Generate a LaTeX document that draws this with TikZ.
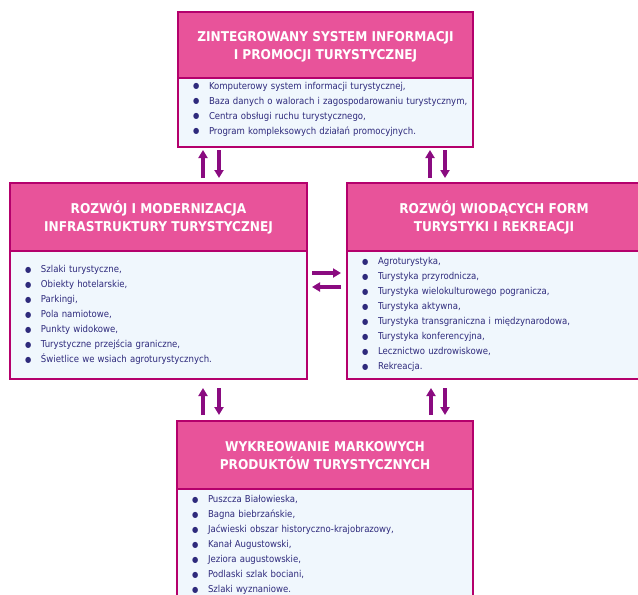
\documentclass[tikz,border=0pt]{standalone}
\usepackage{fontspec}
\setmainfont{DejaVu Sans Condensed}
\usetikzlibrary{arrows.meta}
\definecolor{naglowek}{HTML}{E8539A}
\definecolor{ramka}{HTML}{B4006C}
\definecolor{tlolisty}{HTML}{F0F7FD}
\definecolor{tekst}{HTML}{2E2A7C}
\definecolor{strzalka}{HTML}{8A0B80}
\newcommand{\pkt}[1]{\hspace*{15pt}\makebox[16pt][l]{\raisebox{0.2pt}{\fontsize{8}{8}\selectfont ●}}#1\strut}
\begin{document}
\begin{tikzpicture}[x=1pt,y=1pt,yscale=-1,xscale=1,
    tytul/.style={draw=ramka,line width=1.6pt,fill=naglowek,text=white,outer sep=0pt,
        font=\bfseries\fontsize{13.5}{18}\selectfont,align=center,inner sep=0pt,
        text height=33pt,text depth=4pt},
    lista/.style={draw=ramka,line width=1.6pt,fill=tlolisty,text=tekst,outer sep=0pt,
        font=\fontsize{9.5}{15}\selectfont,align=left,anchor=north west,inner sep=0pt},
    strz/.style={strzalka,line width=3.6pt,-{Triangle[width=9pt,length=8pt]}}]
\useasboundingbox (0,0) rectangle (638,595);
% system informacji
\node[tytul,minimum width=295pt,minimum height=66pt] (systemtyt) at (325.5,45) {ZINTEGROWANY SYSTEM INFORMACJI\\I PROMOCJI TURYSTYCZNEJ};
\node[lista,text width=295pt,text height=11pt,text depth=58pt] (systemlista) at (systemtyt.south west) {\pkt{Komputerowy system informacji turystycznej,}\\\pkt{Baza danych o walorach i zagospodarowaniu turystycznym,}\\\pkt{Centra obsługi ruchu turystycznego,}\\\pkt{Program kompleksowych działań promocyjnych.}};
% infrastruktura
\node[tytul,minimum width=297pt,minimum height=68pt] (infratyt) at (158.5,217) {ROZWÓJ I MODERNIZACJA\\INFRASTRUKTURY TURYSTYCZNEJ};
\node[lista,text width=297pt,text height=21.5pt,text depth=106.5pt] (infralista) at (infratyt.south west) {\pkt{Szlaki turystyczne,}\\\pkt{Obiekty hotelarskie,}\\\pkt{Parkingi,}\\\pkt{Pola namiotowe,}\\\pkt{Punkty widokowe,}\\\pkt{Turystyczne przejścia graniczne,}\\\pkt{Świetlice we wsiach agroturystycznych.}};
% formy turystyki
\node[tytul,minimum width=294pt,minimum height=68pt] (formytyt) at (494,217) {ROZWÓJ WIODĄCYCH FORM\\TURYSTYKI I REKREACJI};
\node[lista,text width=294pt,text height=13.5pt,text depth=114.5pt] (formylista) at (formytyt.south west) {\pkt{Agroturystyka,}\\\pkt{Turystyka przyrodnicza,}\\\pkt{Turystyka wielokulturowego pogranicza,}\\\pkt{Turystyka aktywna,}\\\pkt{Turystyka transgraniczna i międzynarodowa,}\\\pkt{Turystyka konferencyjna,}\\\pkt{Lecznictwo uzdrowiskowe,}\\\pkt{Rekreacja.}};
% produkty
\node[tytul,minimum width=296pt,minimum height=68pt] (produktytyt) at (325,455) {WYKREOWANIE MARKOWYCH\\PRODUKTÓW TURYSTYCZNYCH};
\node[lista,text width=296pt,text height=13.5pt,text depth=107.5pt] (produktylista) at (produktytyt.south west) {\pkt{Puszcza Białowieska,}\\\pkt{Bagna biebrzańskie,}\\\pkt{Jaćwieski obszar historyczno-krajobrazowy,}\\\pkt{Kanał Augustowski,}\\\pkt{Jeziora augustowskie,}\\\pkt{Podlaski szlak bociani,}\\\pkt{Szlaki wyznaniowe.}};
% strzalki
\draw[strz,shorten <=5pt,shorten >=3pt] (203,0 |- infratyt.north) -- (203,0 |- systemlista.south);
\draw[strz,shorten <=3pt,shorten >=5pt] (219,0 |- systemlista.south) -- (219,0 |- infratyt.north);
\draw[strz,shorten <=5pt,shorten >=3pt] (430,0 |- formytyt.north) -- (430,0 |- systemlista.south);
\draw[strz,shorten <=3pt,shorten >=5pt] (445,0 |- systemlista.south) -- (445,0 |- formytyt.north);
\draw[strz,shorten <=5pt,shorten >=6pt] (infralista.east |- 0,273) -- (formylista.west |- 0,273);
\draw[strz,shorten <=6pt,shorten >=5pt] (formylista.west |- 0,287) -- (infralista.east |- 0,287);
\draw[strz,shorten <=6pt,shorten >=9pt] (203,0 |- produktytyt.north) -- (203,0 |- infralista.south);
\draw[strz,shorten <=9pt,shorten >=6pt] (219,0 |- infralista.south) -- (219,0 |- produktytyt.north);
\draw[strz,shorten <=6pt,shorten >=9pt] (431,0 |- produktytyt.north) -- (431,0 |- formylista.south);
\draw[strz,shorten <=9pt,shorten >=6pt] (445,0 |- formylista.south) -- (445,0 |- produktytyt.north);
\end{tikzpicture}
\end{document}
